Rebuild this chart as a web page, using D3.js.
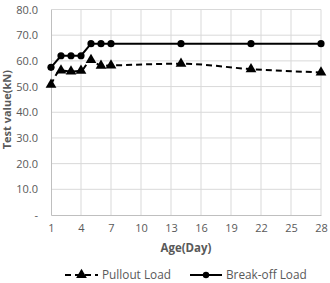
<!DOCTYPE html>
<html>
<head>
<meta charset="utf-8">
<script src="https://cdn.jsdelivr.net/npm/d3@7"></script>
<style>
  body { margin: 0; background: #fff; }
  text { font-family: "Open Sans", "Liberation Sans", sans-serif; }
</style>
</head>
<body>
<div id="chart"></div>
<script>
var days = [1, 2, 3, 4, 5, 6, 7, 14, 21, 28];
var pullout = [50.7, 56.3, 55.9, 56.2, 60.4, 58.1, 58.2, 58.9, 56.8, 55.5];
var breakoff = [57.5, 62.0, 62.0, 62.0, 66.7, 66.7, 66.7, 66.7, 66.7, 66.7];
var xTicks = [1, 4, 7, 10, 13, 16, 19, 22, 25, 28];
var yTicks = [0, 10, 20, 30, 40, 50, 60, 70, 80];

var width = 330, height = 283;
var margin = { top: 9.5, right: 9, bottom: 68, left: 51 };   // plot box

var svg = d3.select("#chart").append("svg")
    .attr("width", width)
    .attr("height", height);

var x = d3.scaleLinear().domain([1, 28]).range([margin.left, width - margin.right]);
var y = d3.scaleLinear().domain([0, 80]).range([height - margin.bottom, margin.top]);

// grid lines
svg.append("g").selectAll("line.v").data(xTicks.slice(1)).enter().append("line")
    .attr("x1", function (d) { return x(d); })
    .attr("x2", function (d) { return x(d); })
    .attr("y1", y(0)).attr("y2", y(80))
    .attr("stroke", "#d9d9d9").attr("stroke-width", 1);
svg.append("g").selectAll("line.h").data(yTicks.slice(1)).enter().append("line")
    .attr("x1", x(1)).attr("x2", x(28))
    .attr("y1", function (d) { return y(d); })
    .attr("y2", function (d) { return y(d); })
    .attr("stroke", "#d9d9d9").attr("stroke-width", 1);

// axes
var xAxis = svg.append("g")
    .attr("transform", "translate(0," + y(0) + ")")
    .call(d3.axisBottom(x).tickValues(xTicks).tickSize(0).tickPadding(9));
var yAxis = svg.append("g")
    .attr("transform", "translate(" + x(1) + ",0)")
    .call(d3.axisLeft(y).tickValues(yTicks).tickSize(0).tickPadding(13)
        .tickFormat(function (d) { return d === 0 ? "-" : d3.format(".1f")(d); }));
[xAxis, yAxis].forEach(function (a) {
    a.select(".domain").attr("stroke", "#bfbfbf");
    a.selectAll("text").attr("fill", "#595959").style("font-size", "11px");
});

// axis titles
svg.append("text")
    .attr("x", (x(1) + x(28)) / 2).attr("y", 252)
    .attr("text-anchor", "middle")
    .attr("fill", "#595959")
    .style("font-size", "11.5px").style("font-weight", "bold")
    .text("Age(Day)");
svg.append("text")
    .attr("transform", "translate(11," + (y(41)) + ") rotate(-90)")
    .attr("text-anchor", "middle")
    .attr("fill", "#595959")
    .style("font-size", "11px").style("font-weight", "bold")
    .text("Test value(kN)");

// series lines
var pullLine = d3.line()
    .x(function (d, i) { return x(days[i]); })
    .y(function (d) { return y(d); })
    .curve(d3.curveMonotoneX);
var breakLine = d3.line()
    .x(function (d, i) { return x(days[i]); })
    .y(function (d) { return y(d); });

svg.append("path").datum(pullout)
    .attr("d", pullLine)
    .attr("fill", "none").attr("stroke", "#000")
    .attr("stroke-width", 2).attr("stroke-dasharray", "6,4");
svg.append("path").datum(breakoff)
    .attr("d", breakLine)
    .attr("fill", "none").attr("stroke", "#000")
    .attr("stroke-width", 2);

var tri = d3.symbol().type(d3.symbolTriangle).size(50);
svg.append("g").selectAll("path").data(pullout).enter().append("path")
    .attr("d", tri)
    .attr("transform", function (d, i) { return "translate(" + x(days[i]) + "," + y(d) + ")"; })
    .attr("fill", "#000");
svg.append("g").selectAll("circle").data(breakoff).enter().append("circle")
    .attr("cx", function (d, i) { return x(days[i]); })
    .attr("cy", function (d) { return y(d); })
    .attr("r", 3.6)
    .attr("fill", "#000");

// legend
var ly = 275;
var lg1 = svg.append("g");
lg1.append("line").attr("x1", 65).attr("x2", 98).attr("y1", ly).attr("y2", ly)
    .attr("stroke", "#000").attr("stroke-width", 2).attr("stroke-dasharray", "6,4");
lg1.append("path").attr("d", tri).attr("transform", "translate(81.5," + ly + ")").attr("fill", "#000");
lg1.append("text").attr("x", 102).attr("y", ly + 4)
    .attr("fill", "#595959").style("font-size", "11.8px").text("Pullout Load");

var lg2 = svg.append("g");
lg2.append("line").attr("x1", 190).attr("x2", 222).attr("y1", ly).attr("y2", ly)
    .attr("stroke", "#000").attr("stroke-width", 2);
lg2.append("circle").attr("cx", 206).attr("cy", ly).attr("r", 3.2).attr("fill", "#000");
lg2.append("text").attr("x", 226).attr("y", ly + 4)
    .attr("fill", "#595959").style("font-size", "11.8px").text("Break-off Load");
</script>
</body>
</html>
